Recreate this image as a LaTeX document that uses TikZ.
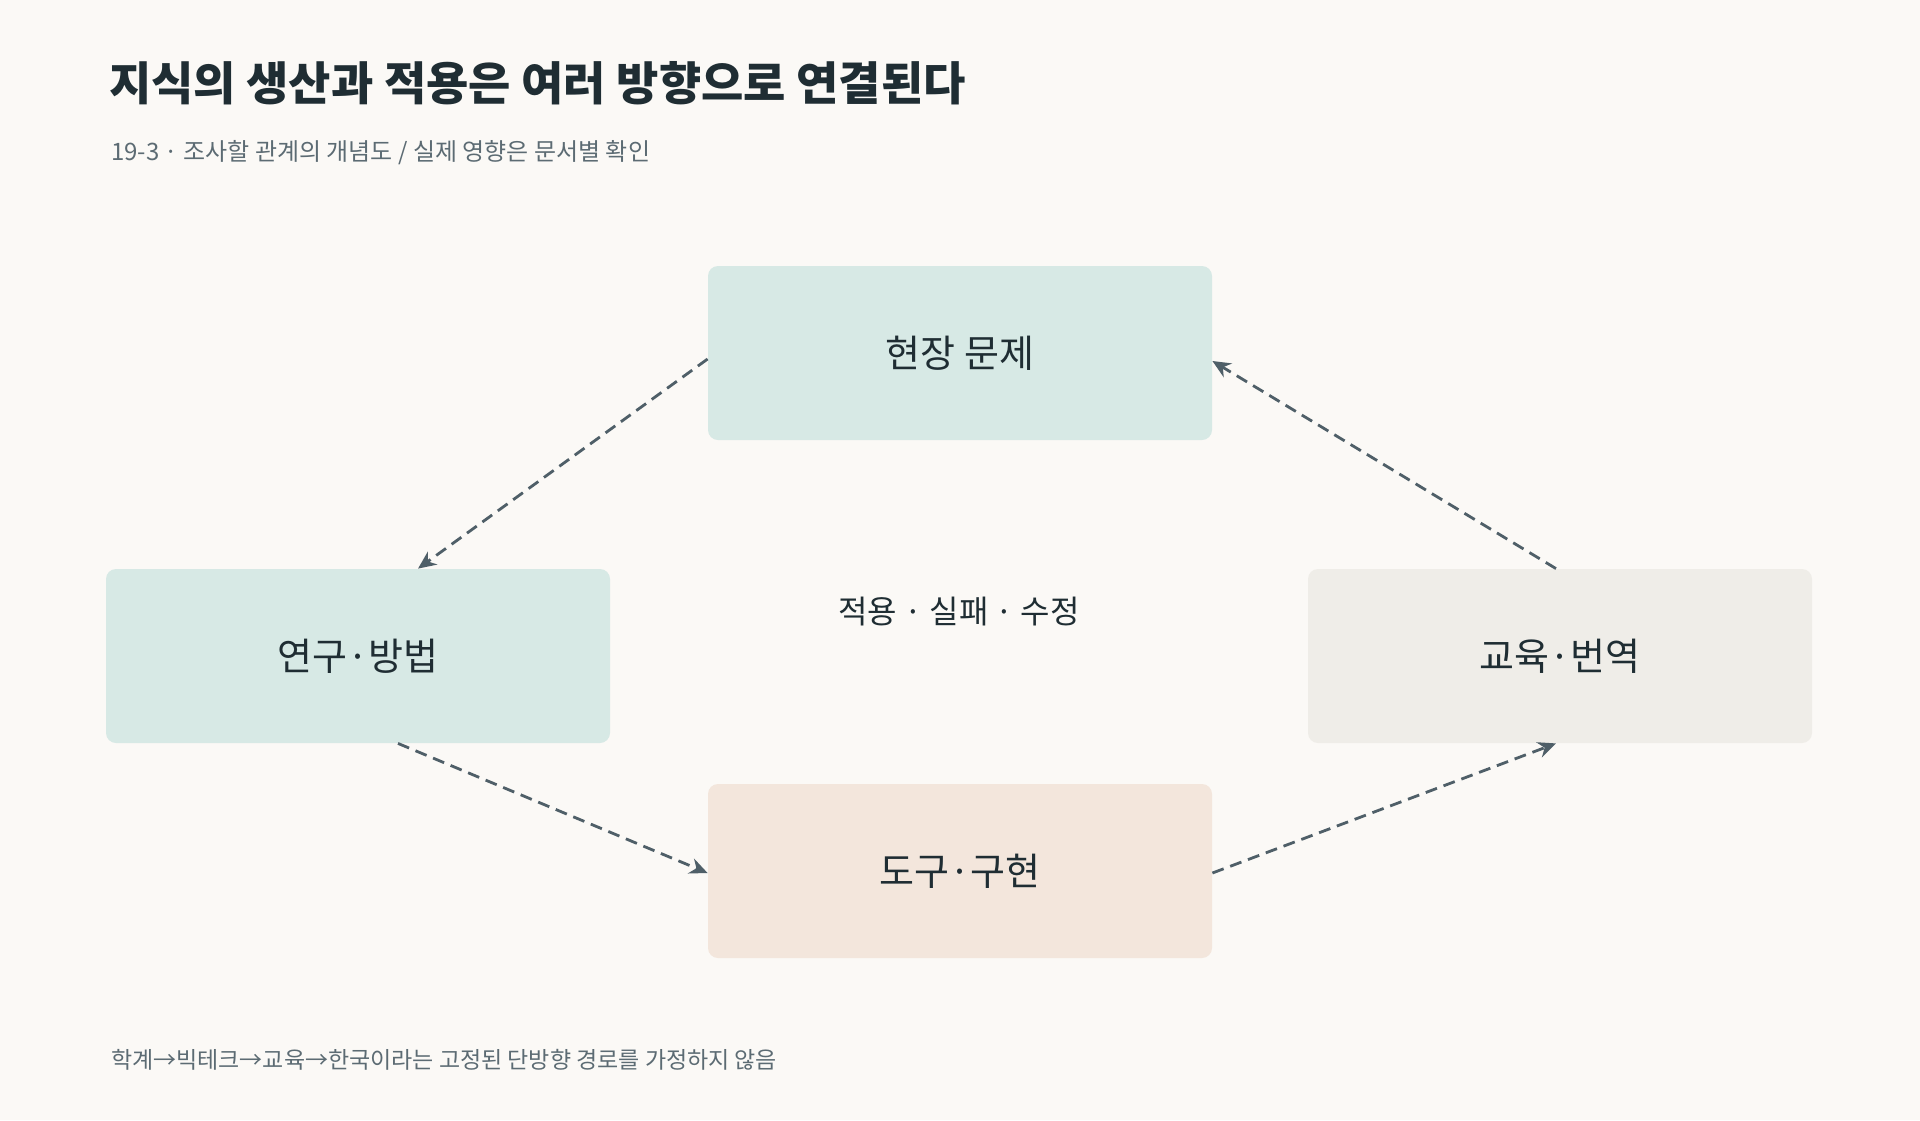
\documentclass[tikz,border=0pt]{standalone}
\usepackage{fontspec}
\setmainfont{Noto Sans CJK KR}
\usetikzlibrary{arrows.meta}
\definecolor{bg}{HTML}{FBF9F6}
\definecolor{ink}{HTML}{1F2D33}
\definecolor{sub}{HTML}{5C6B73}
\definecolor{teal}{HTML}{D7E9E5}
\definecolor{gray}{HTML}{EFEDE8}
\definecolor{peach}{HTML}{F3E6DC}
\definecolor{arr}{HTML}{4F5F68}
\begin{document}
\begin{tikzpicture}[x=0.5pt,y=-0.5pt,
  box/.style={rounded corners=5pt,minimum width=252pt,minimum height=87pt,inner sep=0pt,font=\fontsize{19}{22}\selectfont,text=ink},
  con/.style={draw=arr,line width=1.4pt,dash pattern=on 6pt off 3.5pt,-{Stealth[length=9pt,width=8pt]}}]
\fill[bg] (0,0) rectangle (1920,1120);
\node[anchor=west,font=\bfseries\fontsize{23}{27}\selectfont,text=ink] (title) at (102,83) {지식의 생산과 적용은 여러 방향으로 연결된다};
\node[anchor=west,font=\fontsize{12}{14}\selectfont,text=sub] (subt) at (104,153) {19-3 · 조사할 관계의 개념도 / 실제 영향은 문서별 확인};
\node[box,fill=teal] (top) at (960,353) {현장 문제};
\node[box,fill=teal] (left) at (358,656) {연구·방법};
\node[box,fill=gray] (right) at (1560,656) {교육·번역};
\node[box,fill=peach] (bot) at (960,871) {도구·구현};
\node[font=\fontsize{16}{19}\selectfont,text=ink] (mid) at (959,612) {적용 · 실패 · 수정};
\node[anchor=west,font=\fontsize{11.5}{14}\selectfont,text=sub] (foot) at (104,1060) {학계→빅테크→교육→한국이라는 고정된 단방향 경로를 가정하지 않음};
\path[con] ([yshift=-3pt]top.west) -- ([xshift=30pt]left.north);
\path[con] ([xshift=20pt]left.south) -- ([yshift=-1pt]bot.west);
\path[con] ([yshift=-1pt]bot.east) -- ([xshift=-2pt]right.south);
\path[con] ([xshift=-2pt]right.north) -- ([yshift=-4pt]top.east);
\end{tikzpicture}
\end{document}
